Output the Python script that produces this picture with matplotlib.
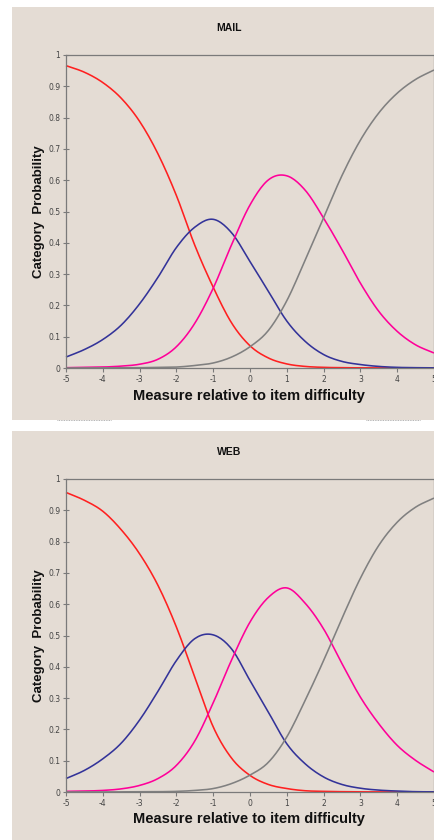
import numpy as np
import matplotlib
matplotlib.use("Agg")
import matplotlib.pyplot as plt
from matplotlib.patches import Rectangle
from matplotlib.lines import Line2D

# ---------------- data ----------------
measure = [-5, -4.5, -4, -3.5, -3, -2.5, -2, -1.5, -1, -0.5, 0,
           0.5, 1, 1.5, 2, 2.5, 3, 3.5, 4, 4.5, 5]

mail_cat1 = [0.966, 0.945, 0.912, 0.862, 0.788, 0.684, 0.551, 0.392, 0.258, 0.144, 0.071,
             0.032, 0.013, 0.005, 0.002, 0.001, 0.0005, 0.0003, 0.0002, 0.0001, 0.0001]
mail_cat2 = [0.035, 0.059, 0.091, 0.137, 0.205, 0.290, 0.385, 0.450, 0.475, 0.432, 0.340,
             0.245, 0.150, 0.085, 0.043, 0.021, 0.011, 0.005, 0.002, 0.001, 0.0005]
mail_cat3 = [0.001, 0.002, 0.003, 0.006, 0.012, 0.028, 0.068, 0.143, 0.255, 0.394, 0.521,
             0.601, 0.614, 0.568, 0.479, 0.378, 0.271, 0.181, 0.117, 0.074, 0.048]
mail_cat4 = [0.0, 0.0, 0.0005, 0.001, 0.001, 0.002, 0.003, 0.008, 0.016, 0.035, 0.068,
             0.120, 0.215, 0.345, 0.480, 0.615, 0.728, 0.815, 0.878, 0.922, 0.952]

web_cat1 = [0.957, 0.932, 0.897, 0.838, 0.761, 0.660, 0.527, 0.367, 0.208, 0.108, 0.053,
            0.024, 0.011, 0.004, 0.002, 0.001, 0.0005, 0.0003, 0.0002, 0.0001, 0.0001]
web_cat2 = [0.043, 0.069, 0.106, 0.156, 0.230, 0.322, 0.420, 0.490, 0.502, 0.457, 0.356,
            0.255, 0.154, 0.090, 0.048, 0.024, 0.012, 0.006, 0.003, 0.001, 0.0005]
web_cat3 = [0.002, 0.003, 0.005, 0.010, 0.021, 0.043, 0.085, 0.163, 0.285, 0.422, 0.543,
            0.622, 0.652, 0.603, 0.521, 0.410, 0.303, 0.218, 0.149, 0.101, 0.064]
web_cat4 = [0.0, 0.0, 0.0, 0.0005, 0.001, 0.001, 0.002, 0.005, 0.011, 0.027, 0.054,
            0.095, 0.176, 0.293, 0.420, 0.555, 0.683, 0.788, 0.862, 0.910, 0.939]

panel_titles = ["MAIL", "WEB"]
x_ticks = [-5, -4, -3, -2, -1, 0, 1, 2, 3, 4, 5]
y_ticks = [0, 0.1, 0.2, 0.3, 0.4, 0.5, 0.6, 0.7, 0.8, 0.9, 1]
y_tick_labels = ["0", "0.1", "0.2", "0.3", "0.4", "0.5", "0.6", "0.7", "0.8", "0.9", "1"]

# ---------------- style ----------------
BG = "#E4DCD4"
SPINE = "#7A7A7A"
COLORS = ["#FF2020", "#333399", "#FF0099", "#808080"]
W, H = 435, 840


def smooth(xs, ys, n=12):
    """Catmull-Rom rendering of the line through the points (like Excel smoothed lines)."""
    xs = np.asarray(xs, float)
    ys = np.asarray(ys, float)
    px = np.concatenate([[2 * xs[0] - xs[1]], xs, [2 * xs[-1] - xs[-2]]])
    py = np.concatenate([[2 * ys[0] - ys[1]], ys, [2 * ys[-1] - ys[-2]]])
    ox, oy = [], []
    t = np.linspace(0, 1, n, endpoint=False)
    for i in range(1, len(px) - 2):
        for P, out in ((px, ox), (py, oy)):
            p0, p1, p2, p3 = P[i - 1], P[i], P[i + 1], P[i + 2]
            out.extend(0.5 * ((2 * p1) + (-p0 + p2) * t +
                              (2 * p0 - 5 * p1 + 4 * p2 - p3) * t ** 2 +
                              (-p0 + 3 * p1 - 3 * p2 + p3) * t ** 3))
    ox.append(xs[-1])
    oy.append(ys[-1])
    return np.array(ox), np.clip(np.array(oy), 0, 1)


fig = plt.figure(figsize=(W / 100, H / 100), dpi=100)
fig.patch.set_facecolor("white")


def fx(px):
    return px / W


def fy(py):
    return 1 - py / H


# panel backgrounds (pixel boxes: x0, y0, x1, y1)
panels = [(12, 7, 435, 420), (12, 431, 435, 840)]
for (x0, y0, x1, y1) in panels:
    fig.add_artist(Rectangle((fx(x0), fy(y1)), fx(x1 - x0), (y1 - y0) / H,
                             transform=fig.transFigure, facecolor=BG,
                             edgecolor="none", zorder=0))

# small dotted marks at bottom of first panel
for (a, b) in [(57, 111), (366, 420)]:
    fig.add_artist(Line2D([fx(a), fx(b)], [fy(419.5), fy(419.5)],
                          transform=fig.transFigure, color="#9A9A9A",
                          lw=0.6, ls=(0, (1, 1)), zorder=1))

axes_boxes = [(66, 55, 434, 368), (66, 479, 434, 792)]
title_y = [28, 452]
xlabel_y = [396, 819]
series = [[mail_cat1, mail_cat2, mail_cat3, mail_cat4],
          [web_cat1, web_cat2, web_cat3, web_cat4]]

for k in range(2):
    x0, y0, x1, y1 = axes_boxes[k]
    ax = fig.add_axes([fx(x0), fy(y1), fx(x1 - x0), (y1 - y0) / H])
    ax.set_facecolor(BG)
    ax.set_zorder(2)
    for yv, c in zip(series[k], COLORS):
        sx, sy = smooth(measure, yv)
        ax.plot(sx, sy, color=c, lw=1.15, solid_capstyle="butt", clip_on=False)
    ax.set_xlim(-5, 5)
    ax.set_ylim(0, 1)
    ax.set_xticks(x_ticks)
    ax.set_xticklabels([str(v) for v in x_ticks])
    ax.set_yticks(y_ticks)
    ax.set_yticklabels(y_tick_labels)
    for s in ax.spines.values():
        s.set_color(SPINE)
        s.set_linewidth(0.9)
    ax.tick_params(axis="both", direction="inout", length=4, width=0.8,
                   color=SPINE, labelsize=5.5, labelcolor="#444444", pad=2)
    ax.tick_params(axis="x", direction="out", length=3)

    fig.text(fx(229), fy(title_y[k]), panel_titles[k], ha="center", va="center",
             fontsize=7.5, fontweight="bold", color="#111111",
             family="Liberation Sans")
    fig.text(fx(249), fy(xlabel_y[k]), "Measure relative to item difficulty",
             ha="center", va="center", fontsize=10.5, fontweight="bold",
             color="#111111", family="Liberation Sans")
    fig.text(fx(39), fy((y0 + y1) / 2), "Category  Probability", ha="center",
             va="center", rotation=90, fontsize=9.5, fontweight="bold",
             color="#111111", family="Liberation Sans")

fig.savefig("out.png", dpi=100, facecolor="white")
